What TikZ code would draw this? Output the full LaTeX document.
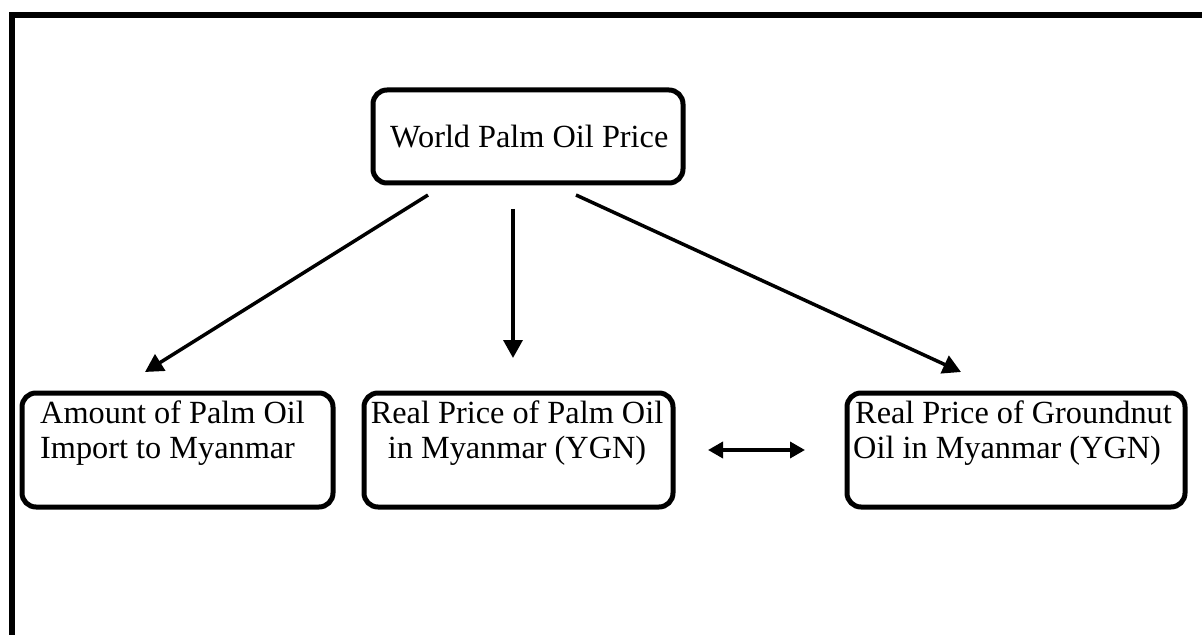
\documentclass[tikz,border=0pt]{standalone}
\usepackage{fontspec}
\setmainfont{Liberation Serif}
\usetikzlibrary{arrows.meta}
\begin{document}
\begin{tikzpicture}[x=1bp,y=-1bp,
  box/.style={draw=black,line width=5bp,rounded corners=14bp,inner sep=0pt,anchor=north west},
  txt/.style={inner sep=0pt,font=\fontsize{32.3bp}{35bp}\selectfont},
  arr/.style={line width=3.5bp,-{Triangle[length=18bp,width=19bp]}},
  darr/.style={line width=3.5bp,{Triangle[length=15bp,width=16bp]}-{Triangle[length=15bp,width=16bp]}}]
\useasboundingbox (0,0) rectangle (1202,635);
\clip (0,0) rectangle (1202,635);
\fill[white] (0,0) rectangle (1202,635);
% outer frame
\draw[line width=6bp] (12,660) -- (12,15) -- (1220,15);
% boxes
\node[box,minimum width=310bp,minimum height=93bp] (top) at (370.5,87.5) {};
\node[box,minimum width=311bp,minimum height=114bp] (left) at (19.5,390.5) {};
\node[box,minimum width=309bp,minimum height=114bp] (mid) at (361.5,390.5) {};
\node[box,minimum width=338bp,minimum height=114bp] (right) at (844.5,390.5) {};
% texts
\node[txt,anchor=base west] (toptxt) at (390,148) {World Palm Oil Price};
\node[txt,anchor=base west,align=left] (lefttxt) at (40,458) {Amount of Palm Oil\\Import to Myanmar};
\node[txt,anchor=base,align=center] (midtxt) at (517,458) {Real Price of Palm Oil\\in Myanmar (YGN)};
\node[txt,anchor=base west,align=left] (righttxt) at (853,458) {\hspace{2bp}Real Price of Groundnut\\Oil in Myanmar (YGN)};
% arrow ends
\coordinate (s1) at (428,195);
\coordinate (s2) at (513,209);
\coordinate (s3) at (576,195);
\coordinate (e1) at (145,372);
\coordinate (e2) at (513,358);
\coordinate (e3) at (961,372);
\coordinate (d1) at (708,450);
\coordinate (d2) at (805,450);
\draw[arr] (s1) -- (e1);
\draw[arr] (s2) -- (e2);
\draw[arr] (s3) -- (e3);
\draw[darr] (d1) -- (d2);
\end{tikzpicture}
\end{document}
